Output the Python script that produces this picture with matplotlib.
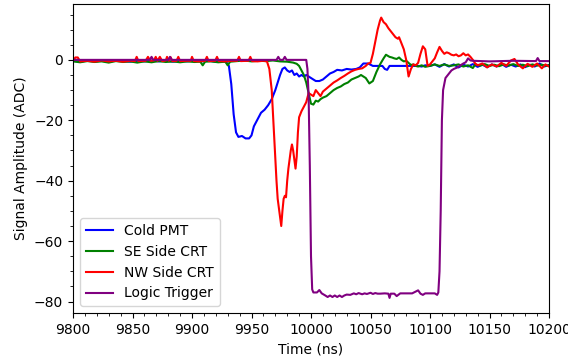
import matplotlib
matplotlib.use("Agg")
import matplotlib.pyplot as plt

# ---- data ----
pmt_t = [9800, 9806, 9812, 9818, 9824, 9830, 9836, 9842, 9848, 9854, 9860, 9866, 9872, 9878, 9884,
         9890, 9896, 9902, 9908, 9914, 9920, 9926, 9929, 9931, 9933, 9935, 9937, 9939, 9942, 9945,
         9948, 9950, 9952, 9954, 9956, 9958, 9961, 9964, 9967, 9970, 9972, 9974, 9976, 9978, 9980,
         9982, 9984, 9986, 9988, 9990, 9992, 9994, 9996, 9998, 10000, 10002, 10004, 10007, 10010,
         10013, 10016, 10019, 10022, 10026, 10030, 10034, 10038, 10041, 10044, 10048, 10052, 10056,
         10060, 10062, 10064, 10066, 10070, 10075, 10080, 10085, 10090, 10093, 10096, 10100, 10104,
         10108, 10112, 10116, 10120, 10124, 10128, 10132, 10136, 10140, 10144, 10148, 10152, 10156,
         10160, 10164, 10168, 10172, 10176, 10180, 10184, 10188, 10192, 10196, 10200]
pmt_v = [-0.3, -0.6, -0.2, -0.5, -0.3, -0.6, -0.2, -0.4, -0.6, -0.3, -0.5, -0.2, -0.5, -0.3, -0.6,
         -0.3, -0.5, -0.2, -0.5, -0.3, -0.6, -0.4, -0.8, -2, -8, -18, -24, -25.5, -25.2, -26,
         -26, -25, -22, -20.5, -19, -17.5, -16.5, -15, -13, -10, -7.5, -5, -3, -2.5, -3.5,
         -4, -3.5, -5, -4.5, -5.5, -5, -5.5, -5, -5.5, -6, -6.5, -7, -7, -6.5,
         -5.5, -4.5, -4, -3.3, -3.5, -3, -3.2, -3, -2.5, -1.2, -1.2, -2, -2,
         -2, -3, -3.3, -2, -2, -2, -2, -2, -2, -2.2, -1.8, -2, -1.5,
         -2.3, -1.4, -2.2, -1.5, -2.5, -1.6, -2.2, -1.4, -2.3, -1.6, -2.4, -1.5, -2.2,
         -1.3, -2.3, -1.6, -2.2, -1.5, -2.4, -1.6, -2.2, -1.2, -2.2, -1.7]

se_t = [9800, 9806, 9812, 9818, 9824, 9830, 9836, 9842, 9848, 9854, 9860, 9866, 9872, 9878, 9884,
        9890, 9896, 9902, 9907, 9909, 9911, 9916, 9922, 9928, 9930, 9932, 9938, 9944, 9950, 9956,
        9962, 9968, 9974, 9980, 9985, 9988, 9990, 9992, 9994, 9996, 9998, 10000, 10002, 10004,
        10006, 10008, 10010, 10013, 10016, 10019, 10022, 10025, 10028, 10031, 10034, 10037, 10040,
        10042, 10044, 10046, 10049, 10052, 10055, 10058, 10061, 10063, 10066, 10068, 10070, 10072,
        10074, 10076, 10078, 10080, 10082, 10084, 10086, 10088, 10090, 10093, 10096, 10100, 10104,
        10108, 10112, 10116, 10120, 10124, 10128, 10132, 10136, 10138, 10142, 10146, 10150, 10154,
        10158, 10162, 10166, 10170, 10174, 10178, 10182, 10186, 10190, 10194, 10198, 10200]
se_v = [-0.5, -0.8, -0.4, -0.7, -0.5, -0.9, -0.4, -0.7, -0.5, -0.9, -0.5, -0.8, -0.4, -0.7, -0.5,
        -0.8, -0.5, -0.7, -0.6, -1.8, -0.6, -0.5, -0.8, -0.6, -1.8, -0.6, -0.4, -0.2, -0.5, -0.3,
        -0.4, -0.2, -0.5, -0.6, -0.9, -1.3, -2, -3.5, -5, -7.5, -11, -14.5, -14.8, -13.5,
        -13.8, -13, -12.5, -12, -11, -10, -9.3, -8.8, -8, -7.5, -6.5, -6, -5.5,
        -5, -5.5, -6, -7.8, -7, -4, -1.5, 0.5, 1.7, 1, 0.8, 0.5, 0.3,
        0.8, 0, -0.5, -0.3, -1, -1.7, -1.5, -2, -2.2, -1.8, -2.3, -2, -1.5,
        -2, -1.5, -2, -1.8, -1.5, -2.2, -1.8, -2.7, -1.5, -1.9, -1.4, -2.0, -1.6,
        -2.1, -1.5, -1.9, -1.4, -2.0, -1.6, -2.1, -1.5, -1.9, -1.6, -2.0, -1.7]

nw_t = [9800, 9802, 9804, 9806, 9812, 9818, 9824, 9830, 9836, 9842, 9848, 9852, 9853.5, 9855,
        9861, 9863, 9865, 9868, 9869.5, 9871, 9873, 9875, 9878, 9879, 9880.5, 9882, 9883.5, 9887,
        9888.5, 9890, 9895, 9899, 9900, 9901.5, 9906, 9911, 9912.5, 9914, 9919.5, 9921, 9922.5,
        9928, 9934, 9938, 9939.5, 9941, 9947.5, 9949, 9950.5, 9955, 9960, 9963, 9965, 9967, 9969,
        9971, 9972, 9974, 9975, 9976, 9977, 9978, 9979, 9980, 9981, 9983, 9984, 9985, 9986, 9987,
        9988, 9989, 9990, 9992, 9994, 9996, 9998, 10000, 10002, 10004, 10006, 10008, 10010, 10013,
        10016, 10019, 10022, 10025, 10028, 10031, 10034, 10037, 10040, 10043, 10046, 10048, 10050,
        10052, 10054, 10056, 10058, 10059, 10061, 10063, 10065, 10067, 10069, 10071, 10073, 10074,
        10076, 10078, 10080, 10082, 10084, 10086, 10088, 10090, 10092, 10094, 10096, 10098, 10100,
        10102, 10104, 10106, 10108, 10110, 10112, 10114, 10116, 10118, 10120, 10122, 10124, 10126,
        10128, 10130, 10132, 10134, 10136, 10138, 10140, 10144, 10148, 10152, 10156, 10160, 10164,
        10168, 10171, 10174, 10178, 10182, 10186, 10190, 10194, 10197, 10200]
nw_v = [-0.3, 0.8, 0.8, -0.5, -0.3, -0.6, -0.2, -0.5, -0.3, -0.6, -0.3, -0.4, 1.0, -0.4,
        -0.3, 1.0, -0.3, -0.2, 1.0, -0.3, 1.0, -0.4, -0.2, 1.0, -0.3, 0.9, -0.4, -0.3,
        1.0, -0.4, -0.3, -0.3, 1.0, -0.4, -0.5, -0.3, 1.0, -0.4, -0.3, 1.0, -0.4,
        -0.5, -0.3, -0.3, 1.0, -0.4, -0.3, 1.0, -0.4, -0.5, -0.3, -0.5, -3, -10, -25,
        -40, -46, -52, -55, -50, -46, -45, -45.5, -40, -36, -30, -28, -30, -33, -36,
        -32, -24, -19, -17, -15.5, -14, -11, -11.5, -12, -10, -11, -12, -10.5, -9.5,
        -8.5, -7.5, -6.8, -6, -5.3, -4.5, -3.8, -3.3, -3, -2.8, -2, -1.2, -1,
        2, 6, 10, 13, 14, 12.5, 11.8, 10.5, 9.5, 8.5, 7.5, 7, 7.5,
        5.5, 3.5, 0, -5.5, -3, -1.5, -1.8, -1, 2, 4.5, 3.5, -2, -1.5,
        -0.5, 0.5, 2.5, 4.3, 3, 2, 2.5, 2.2, 1.7, 1.5, 1.8, 1.2, 1.5,
        2.2, 1.5, 1.8, 1, 0, -1.2, -1.8, -1.2, -2.5, -1.5, -2.2, -1.0, -2.0,
        -0.2, 0.3, -1.5, -2.8, -1.3, -2.3, -1.2, -2.8, -1.5, -2.2]

trig_t = [9800, 9820, 9840, 9864.5, 9866, 9867.5, 9880, 9881.5, 9883, 9900, 9950, 9971, 9972.5,
          9974, 9976.5, 9978, 9979.5, 9996, 9997, 9998, 9999, 10000, 10001, 10002, 10005, 10007,
          10009, 10012, 10014, 10016, 10018, 10020, 10022, 10024, 10026, 10028, 10030, 10033,
          10036, 10038, 10040, 10043, 10045, 10047, 10050, 10052, 10054, 10056, 10058, 10062,
          10065, 10066, 10067, 10070, 10072, 10075, 10080, 10085, 10090, 10092, 10094, 10096,
          10100, 10104, 10106, 10107, 10108, 10109, 10110, 10111, 10113, 10116, 10118, 10120,
          10123, 10126, 10128, 10130, 10132, 10134, 10136, 10150, 10170, 10189, 10190.5, 10192,
          10200]
trig_v = [0, 0, 0, 0, 1, 0, 0, 1, 0, 0, 0, 0, 1,
          0, 0, 1, 0, 0, -3, -12, -35, -65, -76, -77, -77, -76.2,
          -77.3, -78, -78.5, -78, -78.5, -78, -78.5, -78, -78.5, -78, -77.7, -77.8,
          -77.3, -77.6, -77.2, -77.6, -77.3, -77.5, -77.1, -77.5, -77.2, -77.4, -77.4, -77.3,
          -77.4, -78.8, -77.4, -77.4, -78.2, -77.3, -77.3, -77.3, -76.3, -77.4, -77.8, -77.3,
          -77.3, -77.3, -77.8, -77, -70, -50, -20, -10, -6, -4.5, -3.5, -3,
          -2.5, -1.7, -1.2, -0.8, 0.5, -0.2, -0.3, -0.5, -0.3, -0.4, 0.6, -0.4,
          -0.4]

series = [
    ("Cold PMT", pmt_t, pmt_v, "blue"),
    ("SE Side CRT", se_t, se_v, "green"),
    ("NW Side CRT", nw_t, nw_v, "red"),
    ("Logic Trigger", trig_t, trig_v, "purple"),
]

fig = plt.figure(figsize=(5.68, 3.58), dpi=100)
ax = fig.add_subplot(111)
fig.subplots_adjust(left=73/568, right=549/568, top=1-4/358, bottom=1-313/358)

for label, t, v, c in series:
    ax.plot(t, v, color=c, linewidth=1.5, label=label)

ax.set_xlim(9800, 10200)
ax.set_ylim(-83.8, 18.5)
ax.set_xticks([9800, 9850, 9900, 9950, 10000, 10050, 10100, 10150, 10200])
ax.minorticks_on()
ax.set_xlabel("Time (ns)")
ax.set_ylabel("Signal Amplitude (ADC)")
ax.legend(loc="lower left")

fig.savefig("out.png", dpi=100)
